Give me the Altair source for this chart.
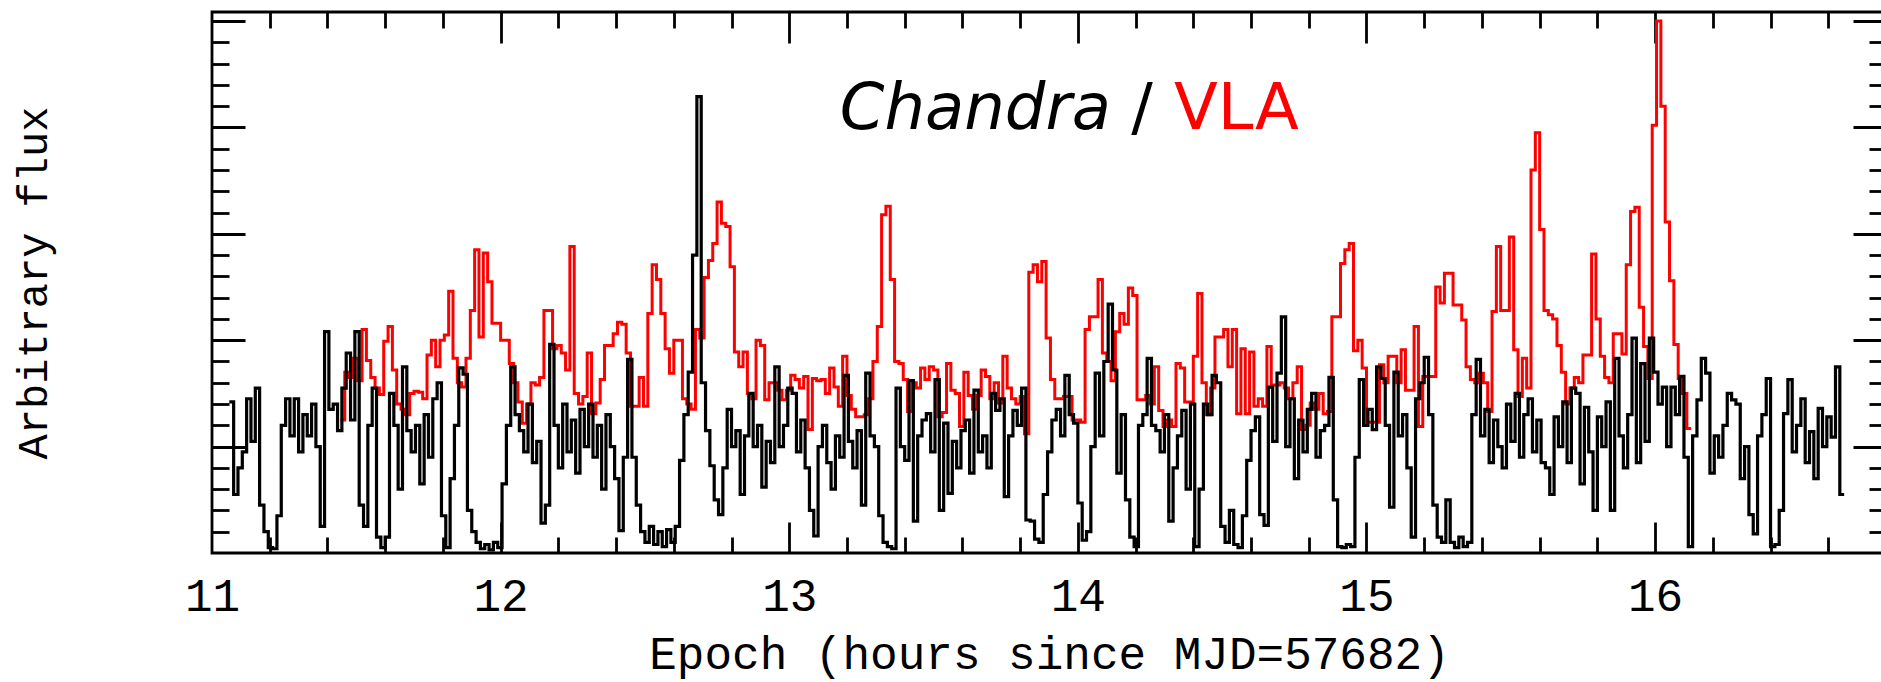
import altair as alt
import pandas as pd

# ---------------- data ----------------
BIN_WIDTH = 0.015          # hours per histogram bin
CHANDRA_START = 11.06      # first Chandra bin (hours since MJD=57682)
VLA_START = 11.445         # first VLA bin

chandra_flux = [
    1.42, 0.55, 0.80, 0.95, 1.45, 1.05, 1.55, 0.45, 0.20, 0.05,
    0.04, 0.35, 1.20, 1.45, 1.10, 1.45, 0.95, 1.30, 1.10, 1.40,
    1.00, 0.25, 2.08, 1.35, 1.40, 1.15, 1.55, 1.88, 1.25, 2.08,
    0.45, 0.25, 1.20, 1.55, 0.15, 0.05, 0.15, 1.50, 1.20, 0.60,
    1.75, 1.15, 0.95, 1.20, 0.65, 1.30, 0.90, 1.45, 1.60, 0.35,
    0.05, 0.70, 1.20, 1.74, 1.68, 0.40, 0.20, 0.10, 0.04, 0.08,
    0.03, 0.10, 0.05, 0.65, 1.20, 1.75, 1.30, 1.15, 0.95, 1.40,
    0.85, 1.05, 0.28, 0.45, 1.96, 1.20, 0.80, 1.40, 0.95, 1.25,
    0.75, 1.35, 1.00, 1.40, 0.90, 1.20, 0.60, 1.30, 1.00, 0.70,
    0.21, 0.90, 1.82, 0.90, 0.45, 0.20, 0.10, 0.25, 0.08, 0.20,
    0.06, 0.22, 0.10, 0.25, 0.87, 1.30, 1.70, 2.80, 4.29, 1.60,
    1.15, 0.82, 0.50, 0.36, 0.80, 1.35, 1.00, 1.15, 0.55, 1.10,
    1.50, 1.00, 1.20, 0.62, 1.05, 0.85, 1.75, 1.00, 1.20, 1.55,
    1.50, 0.95, 1.25, 0.80, 0.40, 0.16, 1.00, 1.20, 0.85, 0.60,
    1.10, 0.90, 1.67, 1.05, 0.80, 1.15, 0.45, 1.69, 1.10, 1.00,
    0.35, 0.10, 0.06, 0.04, 1.55, 1.00, 0.87, 1.62, 0.30, 1.10,
    1.25, 1.31, 0.95, 1.63, 0.40, 1.22, 0.56, 1.05, 0.80, 1.15,
    1.25, 0.75, 1.53, 0.95, 1.10, 0.80, 1.50, 1.34, 1.45, 0.53,
    1.10, 1.34, 1.20, 1.55, 0.31, 0.30, 0.13, 0.10, 0.55, 0.95,
    1.25, 1.35, 1.10, 1.67, 1.30, 1.22, 0.47, 0.12, 0.20, 1.00,
    1.69, 1.10, 1.80, 2.34, 1.72, 0.75, 1.30, 0.50, 0.15, 0.06,
    1.20, 1.30, 1.83, 1.20, 1.15, 0.95, 1.30, 0.30, 0.80, 1.10,
    1.34, 0.60, 1.40, 0.06, 0.60, 1.40, 1.30, 1.67, 1.60, 0.25,
    0.10, 0.40, 0.08, 0.05, 0.35, 0.87, 1.15, 1.28, 0.36, 0.26,
    1.56, 1.05, 1.69, 2.22, 1.00, 1.45, 0.70, 1.25, 0.95, 1.35,
    1.50, 0.90, 1.15, 1.20, 1.65, 0.50, 0.06, 0.05, 0.08, 0.06,
    0.90, 1.63, 1.20, 1.35, 1.16, 1.75, 1.64, 1.20, 0.43, 1.70,
    1.10, 1.30, 0.80, 0.15, 1.45, 1.60, 1.84, 1.30, 0.45, 0.15,
    0.10, 0.50, 0.10, 0.05, 0.15, 0.06, 0.10, 1.30, 1.82, 1.10,
    1.35, 0.85, 1.25, 1.00, 0.80, 1.40, 1.05, 1.50, 0.90, 1.30,
    1.45, 0.95, 1.25, 0.85, 0.80, 0.55, 1.28, 1.00, 1.42, 0.85,
    1.55, 1.50, 0.65, 1.37, 0.95, 0.40, 1.28, 1.00, 1.42, 0.40,
    1.83, 1.10, 0.80, 1.30, 2.02, 0.85, 1.78, 1.05, 2.02, 1.70,
    1.40, 1.56, 1.00, 1.56, 1.30, 1.66, 0.90, 0.06, 1.10, 1.44,
    1.83, 1.69, 0.75, 1.10, 0.90, 1.20, 1.50, 1.44, 1.40, 0.70,
    1.00, 0.36, 0.18, 1.10, 1.30, 1.64, 0.06, 0.08, 0.40, 1.31,
    1.63, 0.95, 1.20, 1.45, 0.85, 1.14, 0.70, 1.36, 1.00, 1.28,
    1.09, 1.75, 0.55,
]

vla_flux = [
    1.25, 1.70, 1.65, 1.83, 1.62, 2.10, 1.81, 1.65, 1.55, 1.49,
    1.99, 2.13, 1.72, 1.40, 1.35, 1.30, 1.50, 1.52, 1.51, 1.45,
    1.86, 2.00, 1.75, 2.00, 2.05, 2.46, 1.83, 1.60, 1.56, 1.83,
    2.28, 2.85, 2.03, 2.82, 2.55, 2.16, 2.16, 2.00, 2.00, 1.78,
    1.60, 1.42, 1.22, 1.40, 1.60, 1.58, 1.65, 2.28, 2.28, 1.92,
    1.95, 1.88, 1.72, 2.88, 1.50, 1.40, 1.47, 1.88, 1.31, 1.41,
    1.63, 1.95, 1.95, 2.06, 2.17, 2.15, 1.88, 1.38, 1.38, 1.65,
    1.38, 2.25, 2.71, 2.57, 2.25, 1.92, 1.69, 2.00, 2.00, 1.45,
    1.40, 1.35, 2.10, 2.02, 2.59, 2.75, 2.91, 3.30, 3.10, 3.07,
    2.69, 1.89, 1.75, 1.89, 1.50, 1.45, 2.00, 1.95, 1.44, 1.60,
    1.60, 1.53, 1.44, 1.53, 1.67, 1.63, 1.55, 1.66, 1.16, 1.64,
    1.62, 1.63, 1.50, 1.74, 1.56, 1.38, 1.85, 1.48, 1.35, 1.28,
    1.28, 1.30, 1.45, 1.80, 2.13, 3.18, 3.26, 2.57, 1.80, 1.78,
    1.63, 1.33, 1.60, 1.55, 1.74, 1.63, 1.75, 1.72, 1.28, 1.32,
    1.78, 1.53, 1.50, 1.19, 1.70, 1.48, 1.35, 1.48, 1.72, 1.66,
    1.45, 1.60, 1.41, 1.85, 1.55, 1.45, 1.40, 1.47, 1.12, 2.64,
    2.71, 2.55, 2.74, 2.02, 1.63, 1.45, 1.45, 1.47, 1.47, 1.25,
    1.25, 1.23, 2.10, 2.22, 2.22, 2.57, 1.88, 1.80, 1.62, 2.08,
    2.25, 2.15, 2.49, 2.42, 1.44, 1.44, 1.48, 1.40, 1.75, 1.34,
    1.19, 1.25, 1.19, 1.78, 1.74, 1.42, 1.42, 1.85, 2.44, 1.60,
    1.30, 1.55, 2.03, 2.03, 2.10, 1.75, 2.10, 1.31, 1.92, 1.31,
    1.89, 1.38, 1.45, 1.38, 1.94, 1.58, 1.58, 1.60, 1.55, 1.45,
    1.60, 1.75, 1.16, 1.20, 1.41, 1.35, 1.50, 1.31, 1.33, 2.22,
    2.22, 2.72, 2.85, 2.91, 1.90, 2.00, 1.74, 1.23, 1.23, 1.23,
    1.77, 1.60, 1.85, 1.85, 1.60, 1.91, 1.53, 1.53, 2.13, 1.19,
    1.66, 1.66, 1.66, 2.50, 2.35, 2.63, 2.63, 2.33, 2.33, 2.19,
    1.75, 1.63, 1.60, 1.69, 1.60, 1.33, 2.27, 2.88, 2.28, 2.28,
    2.97, 1.91, 1.47, 1.83, 1.55, 3.60, 3.95, 3.04, 2.28, 2.24,
    2.20, 1.95, 1.70, 1.40, 1.55, 1.65, 1.60, 1.86, 1.86, 2.81,
    2.20, 1.85, 1.65, 1.60, 2.06, 2.06, 1.87, 2.71, 3.21, 3.25,
    2.31, 1.94, 1.64, 4.02, 5.00, 4.20, 3.11, 2.56, 1.96, 1.64,
    1.50, 1.17,
]

x_major = [12, 13, 14, 15, 16]
x_labels = [11, 12, 13, 14, 15, 16]
x_minor = [11.2, 11.4, 11.6, 11.8, 12.2, 12.4, 12.6, 12.8, 13.2, 13.4,
           13.6, 13.8, 14.2, 14.4, 14.6, 14.8, 15.2, 15.4, 15.6, 15.8,
           16.2, 16.4, 16.6]
y_major = [1, 2, 3, 4, 5]
y_minor = [0.2, 0.4, 0.6, 0.8, 1.2, 1.4, 1.6, 1.8, 2.2, 2.4, 2.6, 2.8,
           3.2, 3.4, 3.6, 3.8, 4.2, 4.4, 4.6, 4.8]

ann_text = ["Chandra", "/", "VLA"]
ann_x = [13.175, 14.222, 14.333]
ann_y = [3.989, 3.989, 3.989]

# ---------------- tables ----------------
def hist_table(start, values):
    xs = [start + BIN_WIDTH * i for i in range(len(values))]
    xs.append(start + BIN_WIDTH * len(values))
    ys = list(values) + [values[-1]]
    return pd.DataFrame({"h": xs, "v": ys})

chandra_df = hist_table(CHANDRA_START, chandra_flux)
vla_df = hist_table(VLA_START, vla_flux)
dummy_df = pd.DataFrame({"h": [11.0], "v": [0.0]})

xs = alt.Scale(domain=[11, 16.8], nice=False, zero=False)
ys = alt.Scale(domain=[0, 5.085], nice=False, zero=False)

MONO = "Liberation Mono"


def tick_axis(orient, values, size, width=2.8):
    return alt.Axis(orient=orient, values=values, tickSize=size, offset=-size,
                    ticks=True, labels=False, domain=False, grid=False,
                    title=None, tickColor="black", tickWidth=width)


# red VLA curve: carries bottom major ticks + left major ticks
vla = alt.Chart(vla_df).mark_line(interpolate="step-after", color="#ff0000",
                                  strokeWidth=3.0).encode(
    x=alt.X("h:Q", scale=xs, axis=tick_axis("bottom", x_major, 31)),
    y=alt.Y("v:Q", scale=ys, axis=tick_axis("left", y_major, 33)),
)

# black Chandra curve: bottom minor ticks + left minor ticks
chandra = alt.Chart(chandra_df).mark_line(interpolate="step-after", color="#000000",
                                          strokeWidth=3.2).encode(
    x=alt.X("h:Q", scale=xs, axis=tick_axis("bottom", x_minor, 16)),
    y=alt.Y("v:Q", scale=ys, axis=tick_axis("left", y_minor, 17)),
)

top_right_major = alt.Chart(dummy_df).mark_point(opacity=0).encode(
    x=alt.X("h:Q", scale=xs, axis=tick_axis("top", x_major, 31)),
    y=alt.Y("v:Q", scale=ys, axis=tick_axis("right", y_major, 33)),
)
top_right_minor = alt.Chart(dummy_df).mark_point(opacity=0).encode(
    x=alt.X("h:Q", scale=xs, axis=tick_axis("top", x_minor, 16)),
    y=alt.Y("v:Q", scale=ys, axis=tick_axis("right", y_minor, 17)),
)

label_layer = alt.Chart(dummy_df).mark_point(opacity=0).encode(
    x=alt.X("h:Q", scale=xs, axis=alt.Axis(
        orient="bottom", values=x_labels, format="d", ticks=False, tickSize=0,
        domain=False, grid=False, labelPadding=57, labelBaseline="alphabetic",
        labelFont=MONO, labelFontSize=46, labelColor="black", labelFlush=False,
        labelOverlap=False, title="Epoch (hours since MJD=57682)",
        titleFont=MONO, titleFontSize=46, titleFontWeight="normal",
        titleColor="black", titleBaseline="alphabetic", titleY=115)),
    y=alt.Y("v:Q", scale=ys, axis=alt.Axis(
        orient="left", ticks=False, labels=False, domain=False, grid=False,
        title="Arbitrary flux", titleFont=MONO, titleFontSize=42,
        titleFontWeight="normal", titleColor="black", titleAngle=270,
        titleAlign="center", titleBaseline="middle", titleX=-178.5,
        titleY=270.5)),
)

ann_df = pd.DataFrame({"h": ann_x, "v": ann_y, "t": ann_text})


def ann_layer(idx, style, color, align):
    return alt.Chart(ann_df.iloc[[idx]]).mark_text(
        font="DejaVu Sans", fontSize=64, fontStyle=style, color=color,
        align=align, baseline="alphabetic").encode(
        x=alt.X("h:Q", scale=xs, axis=None),
        y=alt.Y("v:Q", scale=ys, axis=None),
        text="t:N")


ann1 = ann_layer(0, "italic", "black", "left")
ann2 = ann_layer(1, "normal", "black", "center")
ann3 = ann_layer(2, "normal", "#ff0000", "left")

chart = alt.layer(
    vla, chandra, top_right_major, top_right_minor, label_layer, ann1, ann2, ann3
).resolve_axis(
    x="independent", y="independent"
).properties(
    width=1674, height=541,
    padding={"left": 212, "top": 12, "right": -5, "bottom": 129},
    autosize=alt.AutoSizeParams(type="none"),
    background="white",
).configure_view(
    stroke="black", strokeWidth=2.8
).configure_axis(grid=False)

chart.save("out.html", embed_options={"renderer": "svg", "actions": False})
